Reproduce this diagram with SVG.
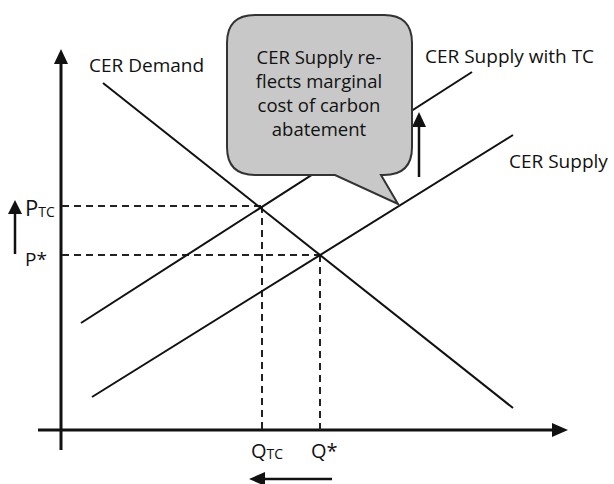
<svg xmlns="http://www.w3.org/2000/svg" width="614" height="484" viewBox="0 0 614 484">
<style>
text{font-family:"Open Sans","Noto Sans",sans-serif;fill:#111;}
.lbl{font-size:19px;}
.bub{font-size:18.5px;}
.curve{stroke:#111;stroke-width:2;fill:none;}
.axis{stroke:#111;stroke-width:3;fill:none;}
.dash{stroke:#222;stroke-width:2;stroke-dasharray:7 5;fill:none;}
.arr{stroke:#111;stroke-width:2.5;fill:none;}
.head{fill:#111;}
</style>
<rect width="614" height="484" fill="#fff"/>
<g id="connectors">
  <line class="axis" x1="61" y1="450" x2="61" y2="60"/>
  <polygon class="head" points="61,49 54,64 68,64"/>
  <line class="axis" x1="38" y1="430" x2="555" y2="430"/>
  <polygon class="head" points="568,430 552,423 552,437"/>
  <line class="dash" x1="62" y1="206" x2="262" y2="206"/>
  <line class="dash" x1="62" y1="255" x2="320" y2="255"/>
  <line class="dash" x1="262" y1="206" x2="262" y2="430"/>
  <line class="dash" x1="320" y1="255" x2="320" y2="430"/>
  <line id="demand" class="curve" x1="103" y1="83" x2="513" y2="408"/>
  <line id="supply-tc" class="curve" x1="81" y1="323" x2="472" y2="72"/>
  <line id="supply" class="curve" x1="92" y1="397" x2="513" y2="135"/>
  <line class="arr" x1="15" y1="254" x2="15" y2="210"/>
  <polygon class="head" points="15,200 8,214 22,214"/>
  <line class="arr" x1="419" y1="177" x2="419" y2="122"/>
  <polygon class="head" points="419,112 412,127 426,127"/>
  <line class="arr" x1="332" y1="479" x2="260" y2="479"/>
  <polygon class="head" points="249,479 265,472 265,486"/>
</g>
<g id="callout">
  <path d="M255,15 H384 Q412,15 412,43 V147 Q412,175 384,175 H381 L398,204 L335,175 H255 Q227,175 227,147 V43 Q227,15 255,15 Z" fill="#c8c8c8" stroke="#333" stroke-width="2"/>
  <text class="bub" text-anchor="middle" x="319" y="64">CER Supply re-</text>
  <text class="bub" text-anchor="middle" x="319" y="88">flects marginal</text>
  <text class="bub" text-anchor="middle" x="319" y="112">cost of carbon</text>
  <text class="bub" text-anchor="middle" x="319" y="136">abatement</text>
</g>
<g id="label-demand"><text class="lbl" x="89" y="72">CER Demand</text></g>
<g id="label-supply-tc"><text class="lbl" x="425" y="63">CER Supply with TC</text></g>
<g id="label-supply"><text class="lbl" x="509" y="168">CER Supply</text></g>
<g id="label-ptc"><text x="25" y="216" font-size="22">P<tspan font-size="14" dy="1">TC</tspan></text></g>
<g id="label-pstar"><text x="25" y="266" font-size="19">P*</text></g>
<g id="label-qtc"><text x="251" y="458" font-size="20">Q<tspan font-size="14" dy="1">TC</tspan></text></g>
<g id="label-qstar"><text x="311" y="458" font-size="20">Q*</text></g>
</svg>
